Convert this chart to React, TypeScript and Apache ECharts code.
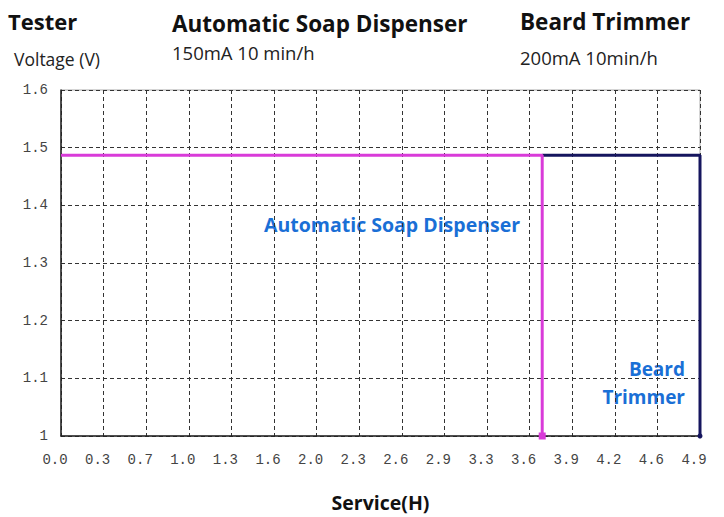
import React, { useEffect, useRef } from "react";
import * as echarts from "echarts";

const xMax = 4.9;
const tickCount = 15;
const xTickLabels = ["0.0", "0.3", "0.7", "1.0", "1.3", "1.6", "2.0", "2.3", "2.6", "2.9", "3.3", "3.6", "3.9", "4.2", "4.6", "4.9"];
const yTickLabels = ["1", "1.1", "1.2", "1.3", "1.4", "1.5", "1.6"];

const soapName = "Automatic Soap Dispenser";
const soapVoltage = [1.487, 1.487, 1.0];
const soapHours = [0, 3.69, 3.69];

const beardName = "Beard Trimmer";
const beardVoltage = [1.487, 1.487, 1.0];
const beardHours = [3.69, 4.9, 4.9];

const FONT = "'Open Sans', sans-serif";
const TICKFONT = "'Liberation Mono', monospace";

export default function App() {
  const ref = useRef<HTMLDivElement>(null);
  useEffect(() => {
    if (!ref.current) return;
    const chart = echarts.init(ref.current, undefined, { renderer: "svg" });
    const step = xMax / tickCount;
    const pts = (xs: number[], ys: number[]) => xs.map((x, i) => [x, ys[i]]);
    const txt = (x: number, y: number, text: string, font: string, fill: string, extra: any = {}) => ({
      type: "text",
      x,
      y,
      style: { text, font, fill, verticalAlign: "middle", ...extra },
    });
    chart.setOption({
      animation: false,
      backgroundColor: "#ffffff",
      grid: {
        left: 61,
        right: 24,
        top: 90,
        bottom: 80,
        show: true,
        borderColor: "#aaaaaa",
        borderWidth: 1,
      },
      xAxis: {
        type: "value",
        min: 0,
        max: xMax,
        interval: step,
        axisLine: { show: true, onZero: false, lineStyle: { color: "#222", width: 1.5 } },
        axisTick: { show: false },
        axisLabel: {
          margin: 17,
          fontFamily: TICKFONT,
          fontSize: 14,
          color: "#444",
          padding: [0, 12, 0, 0],
          formatter: (v: number) => xTickLabels[Math.round(v / step)] ?? "",
        },
        splitLine: { show: true, lineStyle: { type: [4, 3], color: "#333", width: 1 } },
        name: "Service(H)",
        nameLocation: "middle",
        nameGap: 56,
        nameTextStyle: { fontFamily: FONT, fontWeight: "bold", fontSize: 19.5, color: "#111" },
      },
      yAxis: {
        type: "value",
        min: 1,
        max: 1.6,
        interval: 0.1,
        axisLine: { show: true, lineStyle: { color: "#222", width: 1.5 } },
        axisTick: { show: false },
        axisLabel: {
          margin: 13,
          fontFamily: TICKFONT,
          fontSize: 14,
          color: "#444",
          formatter: (v: number) => yTickLabels[Math.round((v - 1) * 10)] ?? "",
        },
        splitLine: { show: true, lineStyle: { type: [4, 3], color: "#333", width: 1 } },
      },
      series: [
        {
          name: beardName,
          type: "line",
          data: pts(beardHours, beardVoltage),
          lineStyle: { color: "#15155e", width: 3 },
          itemStyle: { color: "#15155e" },
          symbol: (_v: any, p: any) => (p.dataIndex === 2 ? "circle" : "none"),
          symbolSize: 5,
          z: 3,
        },
        {
          name: soapName,
          type: "line",
          data: pts(soapHours, soapVoltage),
          lineStyle: { color: "#d93bd9", width: 3 },
          itemStyle: { color: "#d93bd9" },
          symbol: (_v: any, p: any) => (p.dataIndex === 2 ? "rect" : "none"),
          symbolSize: 7,
          z: 4,
        },
      ],
      graphic: [
        txt(8, 21, "Tester", `bold 22px ${FONT}`, "#111"),
        txt(14, 59, "Voltage (V)", `17.5px ${FONT}`, "#222"),
        txt(172, 23, "Automatic Soap Dispenser", `bold 22.5px ${FONT}`, "#111"),
        txt(172, 52, "150mA 10 min/h", `18.5px ${FONT}`, "#222"),
        txt(520, 21, "Beard Trimmer", `bold 22.5px ${FONT}`, "#111"),
        txt(520, 57, "200mA 10min/h", `18.5px ${FONT}`, "#222"),
        txt(264, 224, "Automatic Soap Dispenser", `bold 19.5px ${FONT}`, "#1a6fd6"),
        txt(685, 369, "Beard", `bold 19px ${FONT}`, "#1a6fd6", { align: "right" }),
        txt(685, 397, "Trimmer", `bold 19px ${FONT}`, "#1a6fd6", { align: "right" }),
      ],
    });
    return () => chart.dispose();
  }, []);
  return <div ref={ref} style={{ position: "absolute", left: 0, top: 0, width: 724, height: 517 }} />;
}
